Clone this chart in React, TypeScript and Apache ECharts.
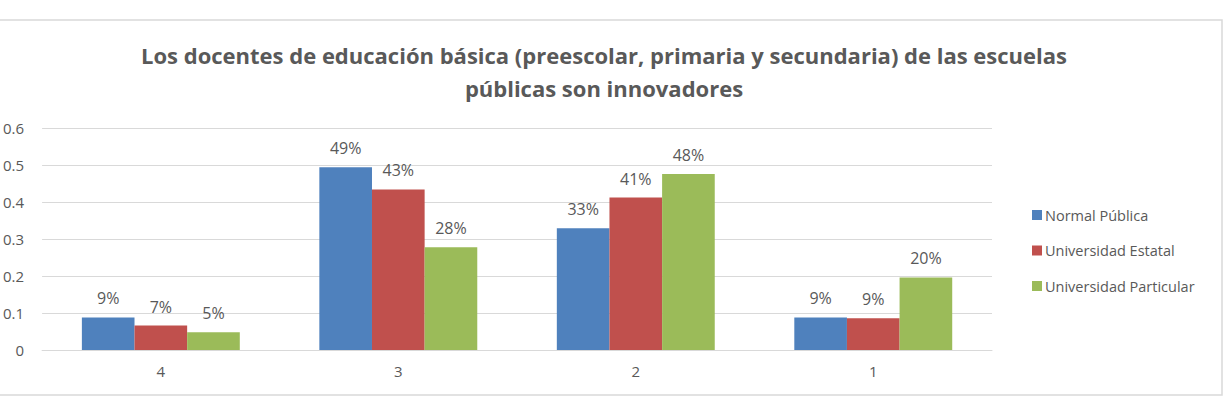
import React, { useEffect, useRef } from "react";
import * as echarts from "echarts";

const categories = ["4", "3", "2", "1"];
const seriesNames = ["Normal Pública", "Universidad Estatal", "Universidad Particular"];
const normalPublica = [0.088, 0.494, 0.329, 0.088];
const universidadEstatal = [0.066, 0.434, 0.412, 0.086];
const universidadParticular = [0.048, 0.278, 0.476, 0.196];
const yTicks = { min: 0, max: 0.6, interval: 0.1 };
const colors = ["#4F81BD", "#C0504D", "#9BBB59"];
const titleText =
  "Los docentes de educación básica (preescolar, primaria y secundaria) de las escuelas\npúblicas son innovadores";

const FONT = '"Open Sans", "Liberation Sans", sans-serif';
const TEXT = "#595959";

export default function App() {
  const ref = useRef<HTMLDivElement>(null);

  useEffect(() => {
    document.body.style.margin = "0";
    if (!ref.current) return;
    const chart = echarts.init(ref.current, null, { renderer: "svg" });
    const values = [normalPublica, universidadEstatal, universidadParticular];

    chart.setOption({
      animation: false,
      backgroundColor: "#ffffff",
      textStyle: { fontFamily: FONT },
      graphic: [
        {
          type: "rect",
          z: -1,
          shape: { x: -4, y: 20, width: 1226, height: 375 },
          style: { fill: "#ffffff", stroke: "#d9d9d9", lineWidth: 1.5 },
        },
        {
          type: "text",
          x: 604,
          y: 71,
          style: {
            text: titleText,
            align: "center",
            verticalAlign: "middle",
            fontFamily: FONT,
            fontWeight: "bold",
            fontSize: 22,
            lineHeight: 33,
            fill: TEXT,
          },
        },
      ],
      legend: {
        orient: "vertical",
        left: 1027,
        top: 201,
        itemWidth: 10,
        itemHeight: 10,
        itemGap: 17.5,
        icon: "rect",
        textStyle: { fontFamily: FONT, fontSize: 14.5, color: TEXT, lineHeight: 18, padding: [0, 0, 0, -2] },
        data: seriesNames,
      },
      grid: { left: 41, right: 238, top: 128, bottom: 48, containLabel: false },
      xAxis: {
        type: "category",
        data: categories,
        axisLine: { lineStyle: { color: "#d9d9d9", width: 1 } },
        axisTick: { show: false },
        axisLabel: { color: TEXT, fontSize: 15, margin: 13, fontFamily: FONT },
      },
      yAxis: {
        type: "value",
        min: yTicks.min,
        max: yTicks.max,
        interval: yTicks.interval,
        axisLine: { show: false },
        axisTick: { show: false },
        splitLine: { lineStyle: { color: "#d9d9d9", width: 1 } },
        axisLabel: {
          color: TEXT,
          fontSize: 15,
          margin: 18,
          fontFamily: FONT,
          formatter: (v: number) => (v === 0 ? "0" : v.toFixed(1)),
        },
      },
      series: seriesNames.map((name, i) => ({
        name,
        type: "bar",
        data: values[i],
        barGap: "0%",
        barCategoryGap: "33.5%",
        itemStyle: { color: colors[i] },
        label: {
          show: true,
          position: "top",
          distance: 11,
          color: TEXT,
          fontSize: 16,
          fontFamily: FONT,
          formatter: (p: any) => Math.round(p.value * 100) + "%",
        },
      })),
    });

    return () => chart.dispose();
  }, []);

  return (
    <div
      ref={ref}
      style={{ position: "absolute", left: 0, top: 0, width: 1230, height: 398 }}
    />
  );
}
